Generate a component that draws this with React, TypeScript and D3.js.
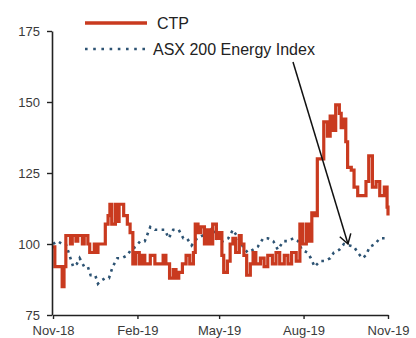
import React, { useEffect, useRef } from "react";
import * as d3 from "d3";

const W = 416;
const H = 338;

const ctpDates = [
  "2018-11-01","2018-11-03","2018-11-11","2018-11-13","2018-11-15","2018-11-20","2018-11-22","2018-11-26","2018-11-28",
  "2018-12-03","2018-12-05","2018-12-09","2018-12-11","2018-12-16","2018-12-18","2018-12-20","2018-12-27","2018-12-28","2018-12-31",
  "2019-01-02","2019-01-04","2019-01-08","2019-01-10","2019-01-12","2019-01-15","2019-01-17","2019-01-21","2019-01-24","2019-01-27","2019-01-30",
  "2019-02-03","2019-02-06","2019-02-09","2019-02-15","2019-02-20","2019-02-26",
  "2019-03-01","2019-03-04","2019-03-08","2019-03-12","2019-03-15","2019-03-18","2019-03-22","2019-03-26","2019-03-30",
  "2019-04-03","2019-04-05","2019-04-08","2019-04-11","2019-04-15","2019-04-18","2019-04-21","2019-04-24","2019-04-28",
  "2019-05-01","2019-05-04","2019-05-06","2019-05-10","2019-05-13","2019-05-16","2019-05-19","2019-05-23","2019-05-25","2019-05-28","2019-05-31",
  "2019-06-04","2019-06-07","2019-06-10","2019-06-15","2019-06-19","2019-06-23","2019-06-28",
  "2019-07-02","2019-07-06","2019-07-11","2019-07-15","2019-07-19","2019-07-24","2019-07-28","2019-07-31",
  "2019-08-04","2019-08-07","2019-08-10","2019-08-13","2019-08-16","2019-08-20","2019-08-23","2019-08-27","2019-08-30",
  "2019-09-02","2019-09-05","2019-09-09","2019-09-11","2019-09-14","2019-09-16","2019-09-18","2019-09-22","2019-09-25","2019-09-29",
  "2019-10-08","2019-10-11","2019-10-15","2019-10-19","2019-10-23","2019-10-28","2019-10-31","2019-11-01",
];
const ctpValues = [
  99, 92, 85, 92, 103, 100, 103, 101, 103,
  100, 103, 100, 97, 100, 97, 100, 100, 107, 110,
  114, 107, 114, 108, 114, 114, 110, 107, 104, 93, 97,
  93, 96, 93, 96, 93, 93,
  96, 93, 88, 91, 88, 90, 93, 96, 93,
  97, 107, 104, 106, 100, 105, 100, 107, 102,
  104, 96, 90, 94, 100, 102, 97, 103, 100, 96, 89,
  93, 97, 93, 95, 92, 96, 93,
  97, 93, 96, 93, 97, 94, 107, 100,
  107, 101, 111, 110, 130, 130, 143, 138, 145,
  140, 149, 146, 141, 144, 136, 127, 126, 120, 117,
  122, 131, 120, 122, 117, 120, 113, 110,
];

const asxDates = [
  "2018-11-01","2018-11-06","2018-11-11","2018-11-15","2018-11-20","2018-11-23","2018-11-27","2018-11-30",
  "2018-12-05","2018-12-09","2018-12-12","2018-12-17","2018-12-20","2018-12-23","2018-12-28",
  "2019-01-01","2019-01-05","2019-01-10","2019-01-15","2019-01-21","2019-01-25","2019-01-30",
  "2019-02-04","2019-02-09","2019-02-15","2019-02-20","2019-02-26",
  "2019-03-03","2019-03-07","2019-03-12","2019-03-18","2019-03-23","2019-03-27",
  "2019-04-01","2019-04-07","2019-04-13","2019-04-19","2019-04-24","2019-04-30",
  "2019-05-05","2019-05-11","2019-05-16","2019-05-22","2019-05-27",
  "2019-06-01","2019-06-07","2019-06-12","2019-06-18","2019-06-23","2019-06-29",
  "2019-07-04","2019-07-10","2019-07-15","2019-07-21","2019-07-26","2019-07-30",
  "2019-08-05","2019-08-09","2019-08-13","2019-08-19","2019-08-24","2019-08-30",
  "2019-09-03","2019-09-09","2019-09-14","2019-09-20","2019-09-25","2019-09-29",
  "2019-10-04","2019-10-08","2019-10-12","2019-10-18","2019-10-23","2019-10-28","2019-11-01",
];
const asxValues = [
  100, 101, 100, 100, 95, 92, 93, 95,
  92, 92, 89, 89, 86, 87, 88,
  88, 92, 95, 95, 96, 98, 99,
  101, 101, 106, 105, 105,
  105, 102, 105, 105, 102, 102,
  99.5, 102, 103, 103, 106, 101,
  101, 102, 105, 102, 99,
  97, 98, 99, 102, 102, 101,
  98, 101, 101, 102, 101, 98,
  97, 95, 92, 94, 94, 95,
  97, 98, 100, 99.5, 99, 97,
  95, 96, 99, 100, 102, 102, 102,
];

const yTicks = [75, 100, 125, 150, 175];
const xTickDates = ["2018-11-01", "2019-02-01", "2019-05-01", "2019-08-01", "2019-11-01"];
const seriesNames = ["CTP", "ASX 200 Energy Index"];

const RED = "#c93a1f";
const BLUE = "#2d5373";
const FONT = "'Liberation Sans', Arial, sans-serif";

const parse = d3.timeParse("%Y-%m-%d");

export default function App() {
  const xAxisRef = useRef<SVGGElement>(null);
  const yAxisRef = useRef<SVGGElement>(null);

  const x = d3
    .scaleTime()
    .domain([parse("2018-11-01") as Date, parse("2019-11-01") as Date])
    .range([53, 388]);
  const y = d3.scaleLinear().domain([75, 175]).range([315, 31]);

  const ctp = ctpDates.map((d, i) => ({ d: parse(d) as Date, v: ctpValues[i] }));
  const asx = asxDates.map((d, i) => ({ d: parse(d) as Date, v: asxValues[i] }));

  const ctpLine = d3
    .line<{ d: Date; v: number }>()
    .x((p) => x(p.d))
    .y((p) => y(p.v))
    .curve(d3.curveStepAfter);
  const asxLine = d3
    .line<{ d: Date; v: number }>()
    .x((p) => x(p.d))
    .y((p) => y(p.v));

  useEffect(() => {
    const xa = d3
      .axisBottom(x)
      .tickValues(xTickDates.map((d) => parse(d) as Date))
      .tickFormat((d) => d3.timeFormat("%b-%y")(d as Date))
      .tickSize(4)
      .tickSizeOuter(0)
      .tickPadding(7);
    const ya = d3
      .axisLeft(y)
      .tickValues(yTicks)
      .tickFormat((d) => String(d))
      .tickSize(5)
      .tickSizeOuter(0)
      .tickPadding(7);
    const gx = d3.select(xAxisRef.current!);
    gx.call(xa as any);
    const gy = d3.select(yAxisRef.current!);
    gy.call(ya as any);
    [gx, gy].forEach((g) => {
      g.selectAll("path.domain").attr("stroke", "#222").attr("stroke-width", 1.6);
      g.selectAll(".tick line").attr("stroke", "#222").attr("stroke-width", 1.4);
      g.selectAll(".tick text")
        .attr("fill", "#3a3a3a")
        .style("font-family", FONT)
        .style("font-size", "13px");
    });
  }, []);

  const arrowStart = { x: 293, y: 62 };
  const arrowEnd = { x: 348, y: 244 };
  const ang = Math.atan2(arrowEnd.y - arrowStart.y, arrowEnd.x - arrowStart.x);
  const armLen = 11;
  const armAng = 0.55;
  const a1 = {
    x: arrowEnd.x - armLen * Math.cos(ang - armAng),
    y: arrowEnd.y - armLen * Math.sin(ang - armAng),
  };
  const a2 = {
    x: arrowEnd.x - armLen * Math.cos(ang + armAng),
    y: arrowEnd.y - armLen * Math.sin(ang + armAng),
  };

  return (
    <svg
      width={W}
      height={H}
      style={{ position: "absolute", left: 0, top: 0, background: "#fff" }}
    >
      <rect width={W} height={H} fill="#fff" />
      <path
        d={asxLine(asx) || ""}
        fill="none"
        stroke={BLUE}
        strokeWidth={2.6}
        strokeDasharray="2.6,4.4"
      />
      <path
        d={ctpLine(ctp) || ""}
        fill="none"
        stroke={RED}
        strokeWidth={3.2}
        strokeLinejoin="miter"
      />
      <g ref={xAxisRef} transform={`translate(0,315)`} />
      <g ref={yAxisRef} transform={`translate(52,0)`} />

      {/* Legend */}
      <line x1={85} x2={147} y1={23} y2={23} stroke={RED} strokeWidth={3.5} />
      <text x={157} y={28.5} fontFamily={FONT} fontSize={16} fill="#222">
        {seriesNames[0]}
      </text>
      <line
        x1={85}
        x2={147}
        y1={49}
        y2={49}
        stroke={BLUE}
        strokeWidth={2.6}
        strokeDasharray="2.6,5.6"
      />
      <text x={153} y={54.5} fontFamily={FONT} fontSize={16} fill="#222">
        {seriesNames[1]}
      </text>

      {/* Arrow */}
      <line
        x1={arrowStart.x}
        y1={arrowStart.y}
        x2={arrowEnd.x}
        y2={arrowEnd.y}
        stroke="#111"
        strokeWidth={1.5}
      />
      <polyline
        points={`${a1.x},${a1.y} ${arrowEnd.x},${arrowEnd.y} ${a2.x},${a2.y}`}
        fill="none"
        stroke="#111"
        strokeWidth={1.5}
      />
    </svg>
  );
}
